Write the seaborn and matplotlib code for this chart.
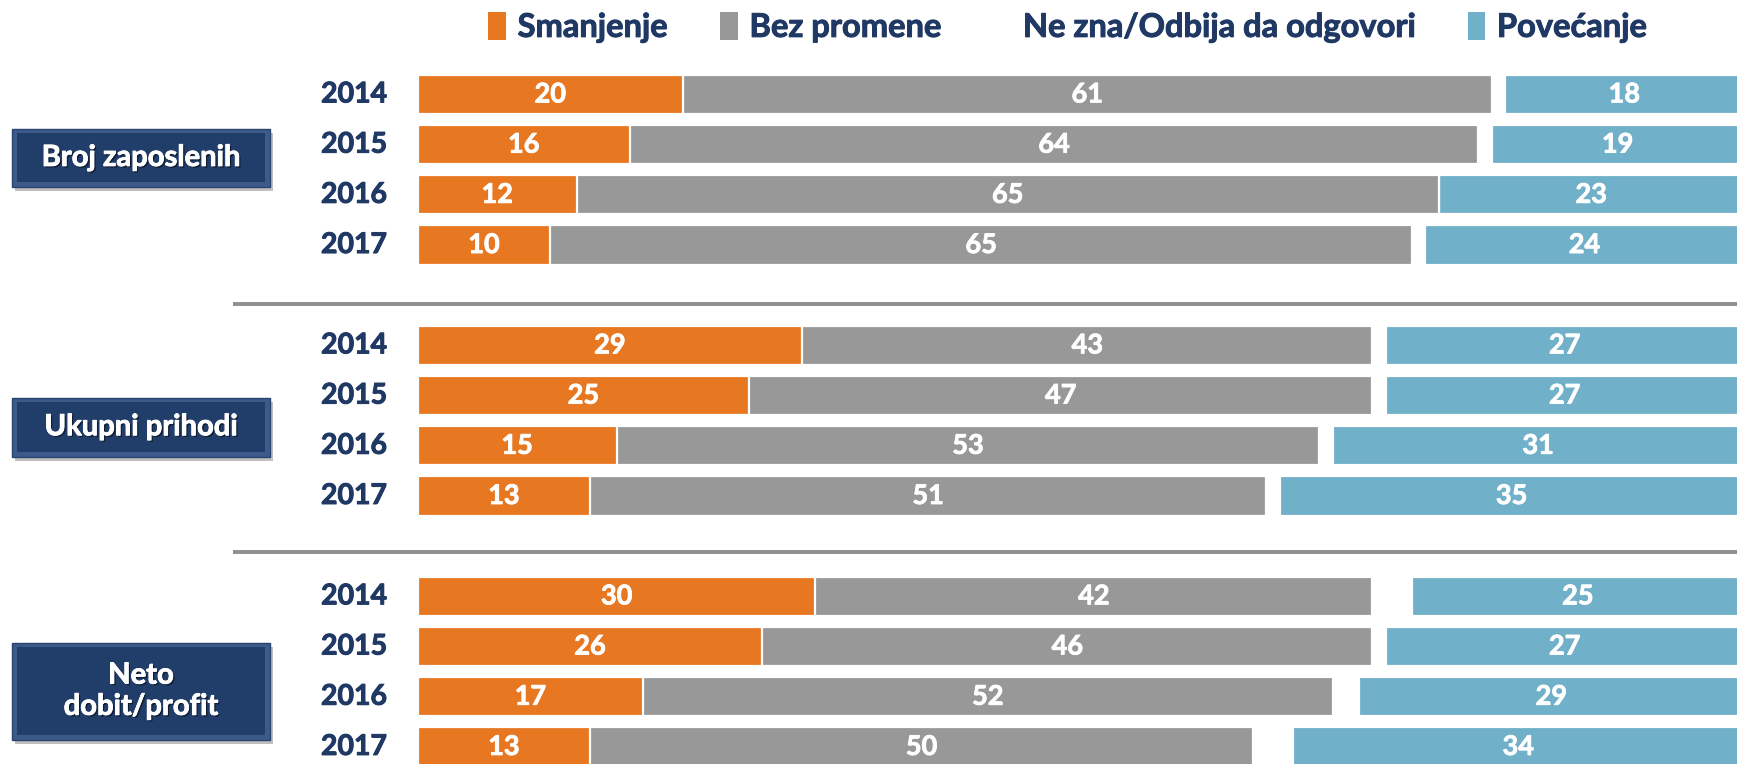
import matplotlib
matplotlib.use("Agg")
import matplotlib.pyplot as plt
import matplotlib.patches as mpatches
import matplotlib.patheffects as pe
import seaborn as sns
import pandas as pd

# --- data -----------------------------------------------------------------
groups = ["Broj zaposlenih", "Ukupni prihodi", "Neto\ndobit/profit"]
years = ["2014", "2015", "2016", "2017"]

# percentages per group, years 2014-2017
smanjenje   = [20, 16, 12, 10,   29, 25, 15, 13,   30, 26, 17, 13]
bez_promene = [61, 64, 65, 65,   43, 47, 53, 51,   42, 46, 52, 50]
ne_zna      = [1, 1, 0, 1,       1, 1, 1, 1,       3, 1, 2, 3]
povecanje   = [18, 19, 23, 24,   27, 27, 31, 35,   25, 27, 29, 34]

legend_labels = ["Smanjenje", "Bez promene", "Ne zna/Odbija da odgovori", "Povećanje"]

# --- style ----------------------------------------------------------------
sns.set_style("white")
plt.rcParams["font.family"] = ["Lato", "DejaVu Sans"]
plt.rcParams["font.weight"] = "bold"

ORANGE = "#E87722"
GRAY = "#989898"
BLUE = "#70B0C8"
NAVY = "#1F3864"


def thick(color, w=0.7):
    # slightly heavier strokes for bold labels
    return [pe.withStroke(linewidth=w, foreground=color)]


# rows: 4 years per group, one empty row between groups
pos = [g * 5 + i for g in range(len(groups)) for i in range(len(years))]
df = pd.DataFrame({
    "pos": pos,
    "year": years * len(groups),
    "s": smanjenje,
    "b": bez_promene,
    "n": ne_zna,
    "p": povecanje,
})
df["c1"] = df["s"]
df["c2"] = df["c1"] + df["b"]
df["c3"] = df["c2"] + df["n"]
df["c4"] = df["c3"] + df["p"]

fig = plt.figure(figsize=(17.37, 7.64), dpi=100)
ax = fig.add_axes([0, 0, 1, 1])

# stacked bars: draw cumulative totals from the widest layer down
layers = [("c4", BLUE), ("c3", "white"), ("c2", GRAY), ("c1", ORANGE)]
for col, colr in layers:
    sns.barplot(data=df, x=col, y="pos", orient="h", native_scale=True,
                color=colr, saturation=1, width=0.78, errorbar=None,
                edgecolor="white", linewidth=1.6, ax=ax)

ax.set_xlim(-31.5, 99.5)
ax.set_ylim(13.34, -1.882)
ax.axis("off")

# value labels inside segments and year labels
for _, r in df.iterrows():
    for xc, val in ((r["s"] / 2, r["s"]),
                    (r["c1"] + r["b"] / 2, r["b"]),
                    (r["c3"] + r["p"] / 2, r["p"])):
        ax.text(xc, r["pos"], f"{val}", ha="center", va="center",
                color="white", fontsize=19.5, fontweight="bold",
                path_effects=thick("white", 0.6))
    ax.text(-2.3, r["pos"], r["year"], ha="right", va="center",
            color=NAVY, fontsize=20.5, fontweight="bold",
            path_effects=thick(NAVY, 0.7))

# separator lines between groups
for yline in (4.18, 9.12):
    ax.plot([-13.9, 100], [yline, yline], color="#8E8E8E", lw=2.8,
            solid_capstyle="butt")

# group label boxes
box_specs = [(1.265, 1.155), (6.63, 1.175), (11.89, 1.93)]
x0, x1 = -30.6, -11.14
for name, (yc, h) in zip(groups, box_specs):
    shadow = mpatches.Rectangle((x0 + 0.25, yc - h / 2 + 0.09), x1 - x0, h,
                                facecolor="#000000", alpha=0.25, lw=0, zorder=3)
    outer = mpatches.Rectangle((x0, yc - h / 2), x1 - x0, h,
                               facecolor="#3D5B8A", edgecolor="#2A4470", lw=1, zorder=4)
    inner = mpatches.Rectangle((x0 + 0.35, yc - h / 2 + 0.09), x1 - x0 - 0.7, h - 0.18,
                               facecolor="#213D6A", lw=0, zorder=5)
    for p in (shadow, outer, inner):
        ax.add_patch(p)
    ax.text((x0 + x1) / 2, yc, name, ha="center", va="center", color="white",
            fontsize=21, fontweight="bold", zorder=6, linespacing=1.25,
            path_effects=[pe.withSimplePatchShadow(offset=(1.2, -1.2),
                                                   shadow_rgbFace="black", alpha=0.5),
                          pe.withStroke(linewidth=0.6, foreground="white")])

# legend
handles = [mpatches.Patch(facecolor=c, edgecolor="none")
           for c in (ORANGE, GRAY, "white", BLUE)]
leg = ax.legend(handles, legend_labels, ncol=4, loc="center",
                bbox_to_anchor=(0.6146, 0.965), bbox_transform=fig.transFigure,
                frameon=False, handlelength=0.55, handleheight=0.95,
                handletextpad=0.35, columnspacing=1.6, labelcolor=NAVY,
                prop={"weight": "bold", "size": 23.5})
for t in leg.get_texts():
    t.set_path_effects(thick(NAVY, 0.7))

fig.savefig("out.png", dpi=100)
